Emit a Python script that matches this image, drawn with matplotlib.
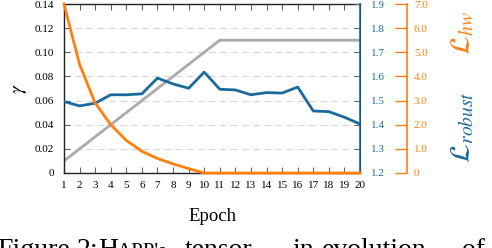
import matplotlib
matplotlib.use("Agg")
import matplotlib.pyplot as plt

plt.rcParams["font.family"] = ["Liberation Serif", "DejaVu Serif"]
plt.rcParams["mathtext.fontset"] = "stix"

epochs = list(range(1, 21))
gamma = [0.01, 0.02, 0.03, 0.04, 0.05, 0.06, 0.07, 0.08, 0.09, 0.10,
         0.11, 0.11, 0.11, 0.11, 0.11, 0.11, 0.11, 0.11, 0.11, 0.11]
loss_robust = [1.496, 1.478, 1.489, 1.524, 1.524, 1.528, 1.593, 1.569, 1.551, 1.618,
               1.547, 1.544, 1.524, 1.533, 1.531, 1.556, 1.457, 1.454, 1.431, 1.403]
loss_hw = [7.0, 4.5, 2.9, 2.0, 1.35, 0.9, 0.6, 0.38, 0.18, 0.0,
           0.0, 0.0, 0.0, 0.0, 0.0, 0.0, 0.0, 0.0, 0.0, 0.0]

gamma_ticks = [0, 0.02, 0.04, 0.06, 0.08, 0.10, 0.12, 0.14]
gamma_labels = ["0", "0.02", "0.04", "0.06", "0.08", "0.10", "0.12", "0.14"]
robust_ticks = [1.2, 1.3, 1.4, 1.5, 1.6, 1.7, 1.8, 1.9]
hw_ticks = [0, 1, 2, 3, 4, 5, 6, 7]
hw_labels = ["0", "1.0", "2.0", "3.0", "4.0", "5.0", "6.0", "7.0"]

# caption line below the figure, only the top of it is inside the crop
caption_words = ["Figure", "2:", "H", "APP's", "tensor", "in", "evolution", "of"]
caption_x = [-3, 77, 98, 117, 185, 292, 322, 462]
caption_size = [20, 20, 20, 15, 20, 20, 20, 20]

BLUE = "#1a6b9c"
ORANGE = "#ff7f0e"
GRAY = "#aaaaaa"
TICK = "#666666"

fig = plt.figure(figsize=(4.92, 2.48), dpi=100)
ax = fig.add_axes([64 / 492, 1 - 173 / 248, 296 / 492, 169 / 248])

for y in gamma_ticks[1:-1]:
    ax.axhline(y, color="#d6d6d6", lw=0.8, ls=(0, (6, 4)), zorder=0)

ax.plot(epochs, gamma, color=GRAY, lw=2.0, zorder=2)
ax.set_xlim(1, 20)
ax.set_ylim(0, 0.14)
ax.set_xticks(epochs)
ax.set_yticks(gamma_ticks)
ax.set_yticklabels(gamma_labels)
ax.tick_params(axis="both", direction="in", length=4, width=0.8, color=TICK,
               labelsize=8, top=True, right=True)
ax.tick_params(axis="x", pad=6)
ax.tick_params(axis="y", pad=7)
ax.set_xlabel("Epoch", fontsize=13.5, labelpad=13)
ax.set_ylabel(r"$\gamma$", fontsize=14, labelpad=4)
for s in ["left", "top", "bottom"]:
    ax.spines[s].set_linewidth(1.0)
    ax.spines[s].set_color("#222222")

ax_r = ax.twinx()
ax_r.plot(epochs, loss_robust, color=BLUE, lw=2.0, zorder=3)
ax_r.set_ylim(1.2, 1.9)
ax_r.set_yticks(robust_ticks)
ax_r.tick_params(axis="y", direction="in", length=4, width=0.8, color=TICK,
                 labelsize=8, labelcolor=BLUE, pad=8)
ax_r.spines["right"].set_color(BLUE)
ax_r.spines["right"].set_linewidth(1.2)
for s in ["left", "top", "bottom"]:
    ax_r.spines[s].set_visible(False)

ax_h = ax.twinx()
ax_h.spines["right"].set_position(("axes", 343 / 296))
ax_h.plot(epochs, loss_hw, color=ORANGE, lw=2.0, zorder=4, clip_on=False)
ax_h.set_ylim(0, 7)
ax_h.set_yticks(hw_ticks)
ax_h.set_yticklabels(hw_labels)
ax_h.tick_params(axis="y", direction="in", length=9, width=1.0, color=ORANGE,
                 labelsize=8, labelcolor=ORANGE, pad=5)
ax_h.spines["right"].set_color(ORANGE)
ax_h.spines["right"].set_linewidth(1.2)
for s in ["left", "top", "bottom"]:
    ax_h.spines[s].set_visible(False)

fig.text(463 / 492, 1 - 33 / 248, r"$\mathcal{L}_{hw}$", color=ORANGE,
         fontsize=20, rotation=90, ha="center", va="center")
fig.text(463 / 492, 1 - 127 / 248, r"$\mathcal{L}_{robust}$", color=BLUE,
         fontsize=20, rotation=90, ha="center", va="center")

for word, x, size in zip(caption_words, caption_x, caption_size):
    fig.text(x / 492, 1 - 257 / 248, word, fontsize=size, ha="left", va="baseline")

fig.savefig("out.png", dpi=100)
